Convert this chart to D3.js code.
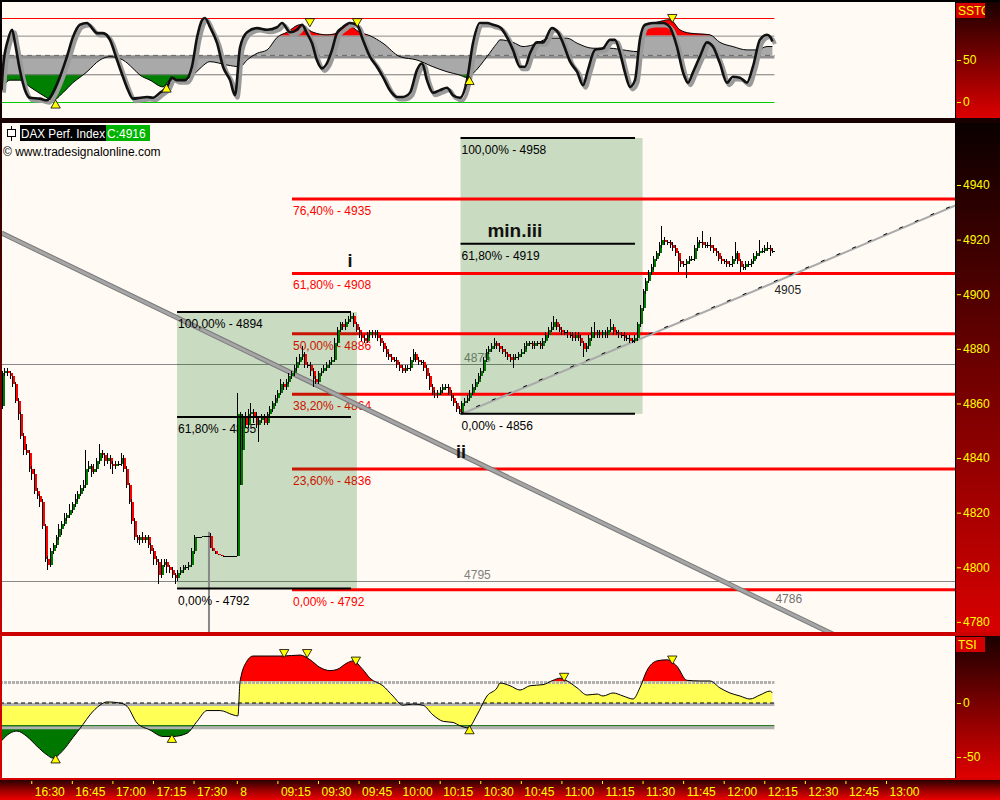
<!DOCTYPE html>
<html><head><meta charset="utf-8">
<script src="https://cdn.jsdelivr.net/npm/d3@7"></script>
<style>
html,body{margin:0;padding:0;background:#000;}
svg{display:block;font-family:"Liberation Sans",Arial,sans-serif;}
</style></head><body>
<svg id="c" width="1000" height="800"></svg>
<script>
// ---------------- DATA ----------------
// 1-minute closes, bar 0 = 16:19 (day 7), bar 87 = 09:00 (day 8)
const closes=[
4871,4872,4871,4870,4867,4861,4856,4848,4843,4842,
4836,4834,4828,4826,4824,4815,4803,4801,4806,4808,
4811,4814,4816,4818,4819,4821,4823,4825,4827,4829,
4830,4836,4837,4835,4836,4839,4842,4841,4839,4840,
4838,4837,4838,4838,4840,4836,4830,4824,4817,4811,
4810,4811,4810,4811,4808,4806,4803,4802,4797,4801,
4802,4800,4799,4797,4796,4798,4799,4800,4800,4801,
4806,4811,4811,4811,4811.5,4811.5,4811.5,4807,4806,4805,
4804.5,4804,4804,4804,4804,4804,4804,4856,4856,4855,
4852,4856,4857,4855,4852,4854,4855,4853,4856,4858,
4860,4862,4864,4867,4866,4868,4870,4871,4873,4875,
4877,4878,4874,4874,4872,4869,4868,4871,4872,4873,
4874,4875,4876,4882,4887,4889,4888,4890,4891,4892,
4889,4887,4885,4884,4883,4885,4886,4885,4886,4884,
4882,4880,4878,4877,4876,4876,4874,4873,4872,4873,
4873,4876,4878,4876,4875,4875,4873,4870,4866,4864,
4863,4864,4865,4866,4866,4864,4862,4860,4858,4857,
4860,4861,4862,4864,4866,4868,4870,4872,4876,4879,
4880,4881,4882,4881,4880,4879,4878,4877,4876,4877,
4877,4878,4879,4881,4882,4882,4881,4882,4882,4881,
4883,4885,4887,4888,4890,4888,4887,4886,4886,4885,
4885,4884,4885,4884,4882,4880,4881,4884,4886,4885,
4886,4885,4886,4885,4887,4888,4886,4886,4885,4885,
4884,4884,4883,4883,4884,4889,4895,4901,4905,4908,
4910,4913,4915,4918,4920,4919,4919,4918,4917,4915,
4912,4911,4911,4912,4913,4913,4917,4919,4919,4918,
4918,4918,4917,4916,4915,4913,4912,4912,4911,4911,
4913,4915,4912,4910,4910,4911,4911,4912,4914,4915,
4916,4916,4917,4917,4916,4916];
const openIdx=[0,87,88,89];
const openVal=[4859,4804,4830,4843];
const wickUp=[
1,1,1,1,0,1,1,1,1,2, 1,1,2,1,1,1,1,1,1,1, 1,2,1,2,1,2,1,2,1,1, 2,7,2,1,2,1,3,1,1,2,
1,1,1,1,2,1,1,1,1,1, 1,1,2,1,1,1,1,1,1,2, 1,1,1,1,1,1,1,1,1,1, 1,1,0,0,0,0,0,1,0,0,
0,0,0,0,0,0,0,8,1,1, 2,2,3,1,2,1,1,1,1,1, 1,1,1,2,1,1,1,1,1,2, 1,3,1,1,1,1,1,1,1,1,
1,1,1,2,1,1,1,1,1,2, 1,1,1,1,1,1,1,1,1,1, 1,1,1,1,1,1,1,1,1,1, 1,1,2,1,1,1,1,1,1,1,
1,1,1,1,1,1,1,1,1,1, 1,1,1,1,1,1,1,1,1,1, 1,1,2,1,1,1,1,1,1,1, 1,1,1,1,1,1,1,1,1,1,
1,1,1,2,2,1,1,1,1,1, 1,1,1,1,1,1,1,1,2,4, 1,1,1,1,1,3,1,1,1,1, 1,1,1,1,1,1,1,1,1,1,
1,1,1,1,5,1,1,1,1,1, 1,1,1,1,1,1,1,2,1,4, 1,1,3,1,1,1,1,1,1,1, 1,4,1,1,1,1,1,1,1,1,
4,1,1,2,1,1];
const wickDn=[
1,1,1,1,1,1,2,1,2,1, 1,2,1,1,2,1,1,2,1,1, 1,1,2,1,1,1,1,1,1,1, 1,1,1,2,1,1,1,1,2,1,
2,3,1,1,1,1,1,1,1,1, 1,2,1,1,1,1,2,1,3,1, 1,2,1,1,2,1,1,1,1,1, 1,1,0,0,0,0,0,0,0,0,
0,0,0,0,0,0,0,0,0,0, 1,1,1,2,1,6,1,1,1,1, 1,1,1,1,1,1,1,1,1,1, 1,1,1,1,2,3,1,1,1,1,
1,1,1,1,1,1,1,1,1,1, 1,1,1,1,1,1,1,1,1,1, 1,1,1,1,1,1,1,1,1,1, 1,1,1,1,1,1,1,1,1,1,
1,1,1,1,1,1,1,1,1,1, 1,1,1,1,1,1,1,1,1,1, 1,1,1,1,1,1,1,1,1,3, 1,1,1,1,1,1,1,1,1,1,
1,1,1,1,1,1,1,1,1,1, 1,1,1,1,1,3,1,1,1,1, 1,1,1,1,1,1,1,1,1,1, 1,1,1,1,1,1,1,1,1,1,
1,1,1,1,1,1,1,1,1,1, 4,1,1,5,1,1,1,1,1,1, 1,1,1,1,1,1,1,1,1,1, 1,1,1,2,1,1,1,1,1,1,
1,1,1,1,2,1];

const priceTicks=[4780,4800,4820,4840,4860,4880,4900,4920,4940];
const timeLabels=["16:30","16:45","17:00","17:15","17:30","8","09:15","09:30","09:45","10:00","10:15","10:30","10:45","11:00","11:15","11:30","11:45","12:00","12:15","12:30","12:45","13:00"];
const timeBars=[11,26,41,56,71,87,102,117,132,147,162,177,192,207,222,237,252,267,282,297,312,327];

// SSTO indicator: [bar, value]
const sstoK=[[0,14],[0.6,42],[2.4,74],[3.9,86],[5,70],[6.8,38],[8.7,14],[10.5,5],[14.2,4],[16.8,2],[19,11],[21.6,30],[24.2,54],[26.4,77],[29,92],[31.6,94],[33.5,88],[35.3,82],[37.5,82],[40.1,74],[42.7,50],[44.9,30],[46.8,14],[48.6,4],[51.2,5],[53.8,6],[56,5],[58.6,11],[61.2,18],[63,29],[64.9,26],[67.8,26],[70.4,42],[72.3,77],[74.1,97],[75.2,100],[77.1,89],[79.7,70],[81.9,42],[84.5,26],[86.3,8],[88.2,65],[90.8,83],[94.5,88],[98.2,86],[101.9,89],[103.7,94],[106.7,83],[109.2,86],[111.1,92],[112.9,82],[114.8,70],[116.6,50],[118.5,40],[120.3,46],[122.2,62],[124,82],[126.2,89],[128.8,94],[131.4,92],[133.6,74],[136.2,54],[138.8,42],[141,30],[143.6,14],[146.2,6],[148.4,6],[151,11],[153.6,38],[155.5,46],[157.3,26],[159.5,11],[162.1,14],[164.7,17],[166.9,8],[169.5,5],[172.1,26],[174.3,70],[176.9,94],[179.5,94],[181.7,92],[184.3,89],[186.9,77],[189.1,62],[191.7,42],[193.5,42],[195.4,58],[197.9,71],[200.2,71],[203.5,88],[205.7,83],[207.6,70],[210.2,48],[212.8,36],[215,20],[216.8,38],[219.4,62],[222.4,64],[225,74],[226.8,74],[228.7,58],[230.5,35],[232.4,18],[234.2,26],[236,74],[237.9,92],[240.9,94],[244.6,94],[247.1,89],[249.7,66],[252,35],[253.8,23],[255.6,35],[258.2,54],[260.8,71],[263,66],[265.6,46],[268.2,23],[270.4,30],[273,29],[275.6,23],[277.8,42],[280.4,74],[283,80],[284.3,77],[285,72]];
const sstoD=[[0,14],[3.1,26],[6.8,26],[10.5,18],[15.3,8],[19,2],[22.7,11],[26.4,23],[30.1,32],[31.6,36],[36.4,50],[40.1,54],[44.9,50],[48.6,40],[51.2,32],[54.9,26],[59.7,18],[62.3,26],[67.1,26],[70.8,32],[73.4,40],[77.1,48],[83.4,44],[88.2,42],[90.8,50],[94.5,58],[98.2,62],[101.9,77],[105.5,83],[110.4,92],[115.2,83],[120.3,80],[124,82],[127.7,92],[132.5,83],[136.2,79],[141,70],[147.3,54],[153.6,50],[159.5,42],[164.7,36],[169.5,32],[172.1,29],[174.3,34],[179.5,54],[183.2,70],[184.3,74],[189.1,71],[192.8,66],[196.5,68],[202.8,76],[209.1,76],[212.8,70],[218.7,64],[225,64],[229.8,62],[235,60],[238.6,92],[242.3,95],[247.1,98],[250.8,86],[254.5,82],[261.9,80],[265.6,71],[270.4,66],[275.6,62],[279.3,62],[283,66],[285,66]];
const sstoTicks=[0,50];
const sstoOuter=[100,0], sstoUpper=79, sstoLower=33, sstoMid=55.5;
const sstoDownMarks=[[114,96],[131.5,96],[248,101]];
const sstoUpMarks=[[20,-4],[61,15],[173,24]];

// TSI indicator: [bar, value]
const tsi=[[0,-35],[3.1,-28],[5.7,-26],[9.4,-31],[13.1,-40],[16.8,-48],[19,-51],[22.7,-44],[26.4,-32],[30.1,-20],[32.7,-11],[36.4,-2],[39,1],[43.8,0],[46.4,-3],[50.1,-18.5],[54.9,-25],[59.7,-31],[63.4,-31],[68.6,-28],[72.3,-17],[76,-7],[80.8,-7],[85.6,-11],[87.4,-12],[88.2,20],[90.8,39],[93,43.5],[98.2,43.5],[104.1,43.5],[110.4,44.4],[114.1,40],[117.7,33],[121.4,30],[124,31],[127.7,37],[129.9,39],[133.6,31],[136.2,23],[141,16],[144.7,6.5],[148.4,-2],[152.1,-1],[155.8,-2],[159.5,-11],[163.3,-17],[166.9,-18],[169.5,-21],[172.5,-23],[175.8,-11],[179.5,6.5],[183.2,14],[184.3,18.5],[188,16],[191.7,12],[195.4,16],[200.2,17],[203.9,21],[206.5,23],[209.1,20.4],[212.8,14],[216.5,7.4],[220.2,8.3],[222.4,6.5],[226.1,9.3],[229.8,6.5],[233.5,3.7],[236,14],[238.6,30],[242.3,39],[246,40],[249.7,34],[253.4,21],[258.2,20.4],[261.9,20.4],[265.6,14],[269.3,9.3],[273,6.5],[276.7,3.7],[280.4,7.4],[284.1,11],[285,9.3]];
const tsiTicks=[0,-50];
const tsiUpper=20, tsiLower=-21;
const tsiDownMarks=[[104.5,47],[113,47],[131,40],[208,25],[248,41]];
const tsiUpMarks=[[20,-53],[63,-34],[173,-26]];

// Fibonacci / drawing tools
const redFibLevels=[4934.9,4907.6,4885.5,4863.4,4836.0,4791.8];
const redFibLabels=["76,40% - 4935","61,80% - 4908","50,00% - 4886","38,20% - 4864","23,60% - 4836","0,00% - 4792"];
const redFibStartBar=107.4;
const fib1Levels=[4893.5,4855.0,4792.2];
const fib1Labels=["100,00% - 4894","61,80% - 4855","0,00% - 4792"];
const fib1Bars=[64.9,129.2];
const fib1Box=[64.9,131.4];
const fib2Levels=[4957.2,4918.5,4856.2];
const fib2Labels=["100,00% - 4958","61,80% - 4919","0,00% - 4856"];
const fib2Bars=[169.7,234.2];
const fib2Box=[169.7,237];
const refLevels=[4874.5,4795.1];
const refLabels=["4875","4795"];
const refLabelBar=171;
const trendDown={bars:[0,285,330],prices:[4922.4,4786.2,4764.7]};
const trendUp={bars:[169.7,285,360],prices:[4856,4904,4935.6]};
const trendLabels=["4786","4905"];
const waveLabels=["i","ii","min.iii"];
const waveBars=[128.8,169.9,189.8];
const wavePrices=[4910,4840,4921];
const sessionEndBar=76.7, sessionEndPrice=4813;
const lastClose="C:4916";
const title="DAX Perf. Index";
const copyright="\u00a9 www.tradesignalonline.com";

// ---------------- DRAWING ----------------
const svg=d3.select("#c");
const defs=svg.append("defs");
function grad(id,stops){const g=defs.append("linearGradient").attr("id",id).attr("x1",0).attr("y1",0).attr("x2",0).attr("y2",1);stops.forEach(s=>g.append("stop").attr("offset",s[0]).attr("stop-color",s[1]));}
grad("frame",[[0,"#000"],[0.16,"#1a0000"],[0.79,"#cc0000"],[1,"#d80000"]]);
grad("stripTop",[[0,"#1a0000"],[1,"#dd0000"]]);
grad("stripMain",[[0,"#0a0000"],[1,"#d80000"]]);
grad("stripTsi",[[0,"#1a0000"],[1,"#e00000"]]);
grad("xbar",[[0,"#280000"],[0.55,"#a00000"],[1,"#ee0000"]]);

const P={top:{x:2,y:2,w:953,h:116},main:{x:2,y:123,w:953,h:509},tsi:{x:2,y:636,w:953,h:142}};
const BG="#fffbf4";
function clip(id,r){defs.append("clipPath").attr("id",id).append("rect").attr("x",r.x).attr("y",r.y).attr("width",r.w).attr("height",r.h);}
clip("cTop",P.top);clip("cMain",P.main);clip("cTsi",P.tsi);

svg.append("rect").attr("width",1000).attr("height",800).attr("fill","url(#frame)");

const xScale=d3.scaleLinear().domain([0,327]).range([1.5,886]);
const yMain=d3.scaleLinear().domain([4776.3,4962.7]).range([632,123]);
const ySsto=d3.scaleLinear().domain([0,100]).range([102,18]);
const yTsi=d3.scaleLinear().domain([-50,0]).range([757,703]);
const xLast=xScale(285)+2, xFirst=0;

// right strips
function strip(r,fill,label){
  svg.append("rect").attr("x",956).attr("y",r.y).attr("width",44).attr("height",r.h).attr("fill",fill);
  svg.append("line").attr("x1",955.5).attr("x2",955.5).attr("y1",r.y).attr("y2",r.y+r.h).attr("stroke","#000");
  if(label){
    const id="lbl"+label;
    defs.append("clipPath").attr("id",id).append("rect").attr("x",956).attr("y",r.y+1).attr("width",29).attr("height",15);
    svg.append("rect").attr("x",956).attr("y",r.y+1).attr("width",29).attr("height",15).attr("fill","#d40000");
    svg.append("text").attr("clip-path","url(#"+id+")").attr("x",958).attr("y",r.y+13).attr("fill","#ffff00").attr("font-size",12).text(label);
  }
}
strip(P.top,"url(#stripTop)","SSTO");
strip(P.main,"url(#stripMain)",null);
strip(P.tsi,"url(#stripTsi)","TSI");
svg.append("rect").attr("x",0).attr("y",780).attr("width",1000).attr("height",20).attr("fill","url(#xbar)");

function styleAxis(g){
  g.select(".domain").remove();
  g.selectAll(".tick line").attr("stroke","#ffff00");
  g.selectAll(".tick text").attr("fill","#ffff00").attr("font-size",12).attr("font-family","Liberation Sans, Arial, sans-serif");
}
styleAxis(svg.append("g").attr("transform","translate(957,0)").call(d3.axisRight(yMain).tickValues(priceTicks).tickSize(4).tickPadding(2).tickFormat(d=>String(d))));
styleAxis(svg.append("g").attr("transform","translate(957,0)").call(d3.axisRight(ySsto).tickValues(sstoTicks).tickSize(4).tickPadding(2).tickFormat(d=>String(d))));
styleAxis(svg.append("g").attr("transform","translate(957,0)").call(d3.axisRight(yTsi).tickValues(tsiTicks).tickSize(4).tickPadding(2).tickFormat(d=>String(d))));
const xa=svg.append("g").attr("transform","translate(0,781)").call(d3.axisBottom(xScale).tickValues(timeBars).tickSize(3).tickPadding(3).tickFormat((d,i)=>timeLabels[i]));
styleAxis(xa);
xa.selectAll(".tick text").attr("text-anchor","start").attr("x",3).attr("y",6);

// zone fill helper
function zoneFill(g,data,yS,base,hi,lo,colors,pre,panel){
  const yHi=yS(hi), yLo=yS(lo);
  const zones=[[panel.y,yHi],[yHi,yLo],[yLo,panel.y+panel.h]];
  const area=d3.area().x(d=>xScale(d[0])).y0(yS(base)).y1(d=>yS(d[1])).curve(d3.curveMonotoneX);
  zones.forEach((z,k)=>{
    const id=pre+k;
    defs.append("clipPath").attr("id",id).append("rect").attr("x",0).attr("y",z[0]).attr("width",1000).attr("height",z[1]-z[0]);
    g.append("path").datum(data).attr("d",area).attr("fill",colors[k]).attr("clip-path","url(#"+id+")");
  });
}
function hline(g,y,color,w,dash){const l=g.append("line").attr("x1",xFirst).attr("x2",xLast).attr("y1",y).attr("y2",y).attr("stroke",color).attr("stroke-width",w);if(dash)l.attr("stroke-dasharray",dash);return l;}
function marks(g,list,yS,down){
  g.selectAll(null).data(list).join("path").attr("d",d3.symbol().type(d3.symbolTriangle).size(38))
   .attr("transform",d=>`translate(${xScale(d[0])},${yS(d[1])}) rotate(${down?180:0})`)
   .attr("fill","#ffff00").attr("stroke","#000").attr("stroke-width",0.8);
}

// ---- SSTO panel ----
const gT=svg.append("g").attr("clip-path","url(#cTop)");
gT.append("rect").attr("x",P.top.x).attr("y",P.top.y).attr("width",P.top.w).attr("height",P.top.h).attr("fill",BG);
zoneFill(gT,sstoD,ySsto,sstoMid,sstoUpper,sstoLower,["#ff0000","#a9a9a9","#008000"],"zs",P.top);
hline(gT,ySsto(sstoMid)+1.5,"#909090",3);
hline(gT,ySsto(sstoMid),"#666",1,"5,4");
hline(gT,ySsto(sstoUpper)+0.5,"#888",1);
hline(gT,ySsto(sstoLower)+0.5,"#777",1);
hline(gT,ySsto(sstoOuter[0])+0.5,"#ff0000",1);
hline(gT,ySsto(sstoOuter[1])+0.5,"#00cc00",1);
const lineS=d3.line().x(d=>xScale(d[0])).y(d=>ySsto(d[1])).curve(d3.curveMonotoneX);
gT.append("path").datum(sstoD).attr("d",lineS).attr("fill","none").attr("stroke","#000").attr("stroke-width",1);
gT.append("path").datum(sstoK).attr("d",lineS).attr("fill","none").attr("stroke","#9a9a9a").attr("stroke-width",4).attr("transform","translate(2.5,2.5)").attr("stroke-linejoin","round");
gT.append("path").datum(sstoK).attr("d",lineS).attr("fill","none").attr("stroke","#111").attr("stroke-width",2.6).attr("stroke-linejoin","round");
marks(gT,sstoDownMarks,ySsto,true);
marks(gT,sstoUpMarks,ySsto,false);

// ---- TSI panel ----
const gI=svg.append("g").attr("clip-path","url(#cTsi)");
gI.append("rect").attr("x",P.tsi.x).attr("y",P.tsi.y).attr("width",P.tsi.w).attr("height",P.tsi.h).attr("fill",BG);
zoneFill(gI,tsi,yTsi,0,tsiUpper,tsiLower,["#ff0000","#ffff55","#007800"],"zt",P.tsi);
hline(gI,yTsi(tsiUpper)+1,"#b0b0b0",3,"3,1");
hline(gI,yTsi(0)+1.5,"#b0b0b0",3);
hline(gI,yTsi(0),"#000",1,"4,3");
hline(gI,yTsi(tsiLower)+2,"#b0b0b0",3);
hline(gI,yTsi(tsiLower),"#006000",1);
gI.append("path").datum(tsi).attr("d",d3.line().x(d=>xScale(d[0])).y(d=>yTsi(d[1])).curve(d3.curveMonotoneX)).attr("fill","none").attr("stroke","#000").attr("stroke-width",1);
marks(gI,tsiDownMarks,yTsi,true);
marks(gI,tsiUpMarks,yTsi,false);

// ---- Main panel ----
const gM=svg.append("g").attr("clip-path","url(#cMain)");
gM.append("rect").attr("x",P.main.x).attr("y",P.main.y).attr("width",P.main.w).attr("height",P.main.h).attr("fill",BG);
refLevels.forEach((v,k)=>{
  gM.append("line").attr("x1",P.main.x).attr("x2",955).attr("y1",Math.round(yMain(v))+0.5).attr("y2",Math.round(yMain(v))+0.5).attr("stroke","#888").attr("stroke-width",1);
  gM.append("text").attr("x",xScale(refLabelBar)).attr("y",yMain(v)-2).attr("fill","#808080").attr("font-size",12).text(refLabels[k]);
});
function box(b,lv){
  gM.append("rect").attr("x",xScale(b[0])).attr("width",xScale(b[1])-xScale(b[0]))
    .attr("y",yMain(d3.max(lv))).attr("height",yMain(d3.min(lv))-yMain(d3.max(lv)))
    .attr("fill","#006400").attr("fill-opacity",0.21);
}
box(fib2Box,[fib2Levels[0],fib2Levels[2]]);
redFibLevels.forEach((v,k)=>{
  gM.append("line").attr("x1",xScale(redFibStartBar)).attr("x2",955).attr("y1",yMain(v)).attr("y2",yMain(v)).attr("stroke","#ff0000").attr("stroke-width",3);
  gM.append("text").attr("x",xScale(redFibStartBar)+1).attr("y",yMain(v)+16).attr("fill","#ff0000").attr("font-size",12).text(redFibLabels[k]);
});
box(fib1Box,[fib1Levels[0],fib1Levels[2]]);
function tline(t){return t.bars.map((b,i)=>[xScale(b),yMain(t.prices[i])]);}
gM.append("path").attr("d",d3.line()(tline(trendDown))).attr("stroke","#7a7a7a").attr("stroke-width",5).attr("fill","none");
gM.append("path").attr("d",d3.line()(tline(trendDown))).attr("stroke","#a6a6a6").attr("stroke-width",3).attr("fill","none");
gM.append("path").attr("d",d3.line()(tline(trendUp))).attr("stroke","#aaaaaa").attr("stroke-width",2).attr("fill","none");
gM.append("path").attr("d",d3.line()(tline(trendUp))).attr("stroke","#000").attr("stroke-width",1).attr("stroke-dasharray","4,13").attr("transform","translate(0,-1)").attr("fill","none");
gM.append("line").attr("x1",xScale(sessionEndBar)).attr("x2",xScale(sessionEndBar)).attr("y1",yMain(sessionEndPrice)).attr("y2",632).attr("stroke","#888").attr("stroke-width",2);
[[fib1Levels,fib1Labels,fib1Bars],[fib2Levels,fib2Labels,fib2Bars]].forEach(([lv,lb,bb])=>{
  lv.forEach((v,k)=>gM.append("text").attr("x",xScale(bb[0])+1).attr("y",yMain(v)+16).attr("fill","#000").attr("font-size",12).text(lb[k]));
});
// candles
const bars=closes.map((c,i)=>{
  const oi=openIdx.indexOf(i);
  const o=oi>=0?openVal[oi]:closes[i-1];
  return {i,o,c,hi:Math.max(o,c)+wickUp[i],lo:Math.min(o,c)-wickDn[i]};
});
const gC=gM.append("g").attr("shape-rendering","crispEdges");
gC.selectAll("rect").data(bars).join("rect")
  .attr("x",d=>Math.round(xScale(d.i)))
  .attr("width",3)
  .attr("y",d=>Math.round(yMain(Math.max(d.o,d.c))))
  .attr("height",d=>Math.max(1,Math.round(yMain(Math.min(d.o,d.c)))-Math.round(yMain(Math.max(d.o,d.c)))))
  .attr("fill",d=>d.c>d.o?"#007800":(d.c<d.o?"#ff0000":"#000"));
gC.selectAll("line").data(bars).join("line")
  .attr("x1",d=>Math.round(xScale(d.i))+0.5).attr("x2",d=>Math.round(xScale(d.i))+0.5)
  .attr("y1",d=>yMain(d.hi)).attr("y2",d=>yMain(d.lo))
  .attr("stroke","#000").attr("stroke-width",1);
[[fib1Levels,fib1Bars],[fib2Levels,fib2Bars]].forEach(([lv,bb])=>{
  lv.forEach(v=>gM.append("line").attr("x1",xScale(bb[0])).attr("x2",xScale(bb[1])).attr("y1",yMain(v)).attr("y2",yMain(v)).attr("stroke","#000").attr("stroke-width",2));
});
gM.append("text").attr("x",xScale(285)+3).attr("y",yMain(trendDown.prices[1])-2).attr("fill","#707070").attr("font-size",12).text(trendLabels[0]);
gM.append("text").attr("x",xScale(285)+2).attr("y",yMain(trendUp.prices[1])+11).attr("fill","#222").attr("font-size",12).text(trendLabels[1]);
waveLabels.forEach((t,k)=>gM.append("text").attr("x",xScale(waveBars[k])).attr("y",yMain(wavePrices[k])).attr("text-anchor","middle").attr("font-weight","bold").attr("font-size",k===2?19:18).attr("fill","#111").text(t));
// header
const gh=svg.append("g");
gh.append("line").attr("x1",11.5).attr("x2",11.5).attr("y1",126).attr("y2",141).attr("stroke","#000");
gh.append("rect").attr("x",7.5).attr("y",129.5).attr("width",8).attr("height",7).attr("fill","#fff").attr("stroke","#000");
gh.append("rect").attr("x",20).attr("y",125).attr("width",86).attr("height",16).attr("fill","#000");
gh.append("text").attr("x",21).attr("y",137.5).attr("fill","#fff").attr("font-size",12).attr("textLength",84).attr("lengthAdjust","spacingAndGlyphs").text(title);
gh.append("rect").attr("x",106).attr("y",125).attr("width",44).attr("height",16).attr("fill","#00b400");
gh.append("text").attr("x",107).attr("y",137.5).attr("fill","#fff").attr("font-size",12).text(lastClose);
gh.append("text").attr("x",3).attr("y",156).attr("fill","#000").attr("font-size",12).text(copyright);
</script>
</body></html>
